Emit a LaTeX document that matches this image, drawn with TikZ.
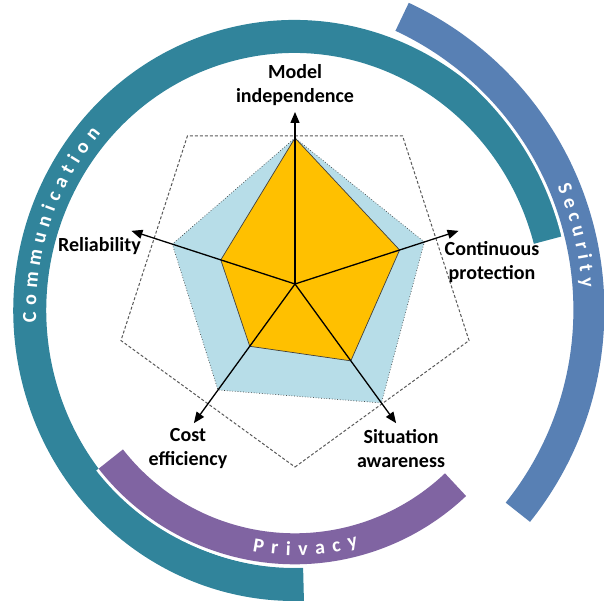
\documentclass[tikz,border=0pt]{standalone}
\usepackage{fontspec}
\setmainfont{Carlito}
\usetikzlibrary{arrows.meta,decorations.text}
\definecolor{commteal}{RGB}{49,132,155}
\definecolor{secblue}{RGB}{88,128,180}
\definecolor{privpurple}{RGB}{128,100,162}
\definecolor{radarblue}{RGB}{183,221,232}
\definecolor{radarorange}{RGB}{255,192,0}

\begin{document}
\begin{tikzpicture}[x=0.5pt,y=0.5pt,
		lbl/.style={font=\bfseries, align=center, inner sep=0pt},
		axis/.style={line width=0.65pt, -{Triangle[length=5.5pt,width=4.5pt]}},
		ringtext/.style={decorate, decoration={text along path, text align=center, text color=white, raise=-3.2pt, text={#1}}}]
		%%%%% START %%%%%
		\useasboundingbox (-295,-321) rectangle (309,284);
		
		% rings
		\draw[commteal, line width=16.5pt] (-0.7,-26.5) ++(15:264.5 and 274) arc[start angle=15, end angle=272, x radius=264.5, y radius=274];
		\draw[white, line width=18.5pt] (-29.6,-26) ++(65:323.5) arc[start angle=65, end angle=-38.7, radius=323.5];
		\draw[secblue, line width=15.5pt] (-29.6,-26) ++(65:323.5) arc[start angle=65, end angle=-38.7, radius=323.5];
		\draw[white, line width=18.5pt] (-0.2,-31.3) ++(218:233.5) arc[start angle=218, end angle=313.5, radius=233.5];
		\draw[privpurple, line width=15.5pt] (-0.2,-31.3) ++(218:233.5) arc[start angle=218, end angle=313.5, radius=233.5];
		
		\path[ringtext={|\bfseries\kern3.2pt|Communication}] (-0.7,-26.5) ++(205:264.5 and 274) arc[start angle=205, end angle=117, x radius=264.5, y radius=274];
		\path[ringtext={|\bfseries\kern2.8pt|Security}] (-29.6,-26) ++(50:323.5) arc[start angle=50, end angle=-22, radius=323.5];
		\path[ringtext={|\bfseries\kern3.7pt|Privacy}] (-0.2,-31.3) ++(230:233.5) arc[start angle=230, end angle=313.4, radius=233.5];
		
		% radar
		\draw[black!65, line width=0.5pt, dash pattern=on 1.5pt off 1pt] (-90:183) -- (-18:183) -- (54:183) -- (126:183) -- (198:183) -- cycle;
		\draw[fill=radarblue, draw=black!75, line width=0.35pt, densely dotted] (90:146) -- (162:129) -- (234:131) -- (306:147) -- (18:136) -- cycle;
		\draw[fill=radarorange, draw=black!75, line width=0.35pt] (90:146) -- (162:78) -- (234:77) -- (306:95) -- (18:110) -- cycle;
		
		\coordinate (o) at (0,0);
		\coordinate (tipmodel) at (90:172);
		\coordinate (tipreli) at (162:172);
		\coordinate (tipcost) at (234:172);
		\coordinate (tipsitu) at (306:172);
		\coordinate (tipcont) at (18:172);
		\draw[axis] (o) -- (tipmodel);
		\draw[axis] (o) -- (tipreli);
		\draw[axis] (o) -- (tipcost);
		\draw[axis] (o) -- (tipsitu);
		\draw[axis] (o) -- (tipcont);
		
		\node[lbl] (model) at (0,199) {Model\\independence};
		\node[lbl] (reli) at (-195.6,37.5) {Reliability};
		\node[lbl] (cont) at (197,22) {Continuous\\protection};
		\node[lbl] (cost) at (-107,-165) {Cost\\efficiency};
		\node[lbl] (situ) at (106,-165) {Situation\\awareness};
		
		%%%%% END %%%%%
	\end{tikzpicture}
\end{document}
